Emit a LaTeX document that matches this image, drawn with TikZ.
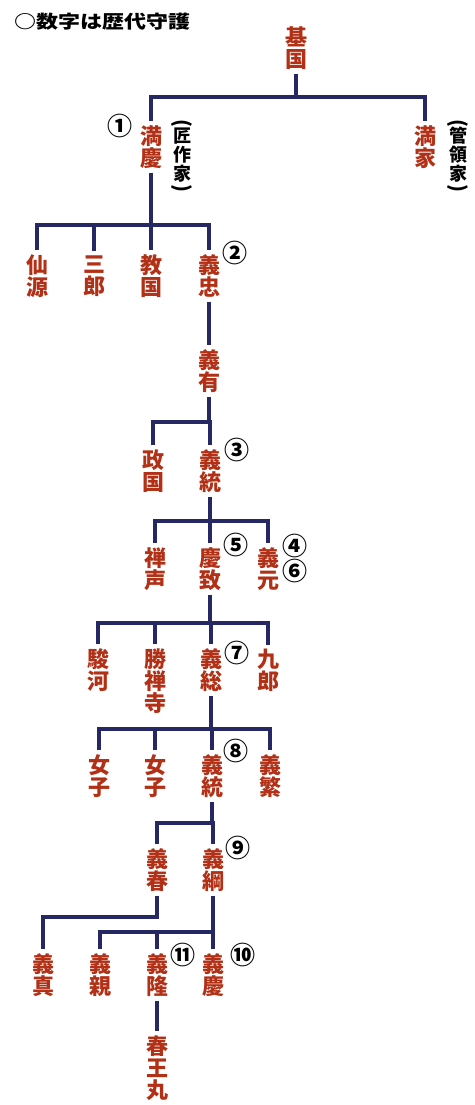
\documentclass[tikz,border=0pt]{standalone}
\usepackage{fontspec}
\newfontfamily\jp{Noto Sans CJK JP}
\definecolor{namecol}{RGB}{178,48,22}
\definecolor{linecol}{RGB}{38,40,100}
\tikzset{
 nm/.style={font=\jp\bfseries\fontsize{22}{22}\selectfont, text=namecol, align=center, inner xsep=1pt, inner ysep=4pt},
 num/.style={font=\jp\bfseries\fontsize{25}{25}\selectfont, inner sep=0pt},
 note/.style={font=\jp\bfseries\fontsize{18}{19}\selectfont, align=center, inner sep=0pt},
 paren/.style={font=\jp\bfseries\fontsize{20}{20}\selectfont, inner sep=0pt, rotate=-90},
 conn/.style={draw=linecol, line width=3.2pt},
}
\begin{document}
\begin{tikzpicture}[x=1pt,y=1pt]
\useasboundingbox[fill=white] (0,0) rectangle (474,-1105);
% title
\node[anchor=west, inner sep=0pt, font=\jp\bfseries\fontsize{22}{22}\selectfont] (title) at (14,-22) {\scalebox{1}[0.82]{○数字は歴代守護}};
% bar levels
\coordinate (y1) at (0,-97);
\coordinate (y2) at (0,-225);
\coordinate (y4) at (0,-422);
\coordinate (y5) at (0,-521);
\coordinate (y6) at (0,-623);
\coordinate (y7) at (0,-729);
\coordinate (y8) at (0,-823);
\coordinate (y9) at (0,-917);
\coordinate (y10) at (0,-932);
% names
\node[nm] (motokuni) at (296,-48) {基\\国};
\node[nm] (mankei) at (151,-147) {満\\慶};
\node[nm] (mitsuie) at (425,-147) {満\\家};
\node[nm] (sengen) at (37,-276) {仙\\源};
\node[nm] (saburo) at (94,-276) {三\\郎};
\node[nm] (norikuni) at (151,-276) {教\\国};
\node[nm] (yoshitada) at (209,-276) {義\\忠};
\node[nm] (yoshiari) at (209,-371) {義\\有};
\node[nm] (masakuni) at (153,-471) {政\\国};
\node[nm] (yoshimune) at (210,-471) {義\\統};
\node[nm] (zensho) at (155,-569) {禅\\声};
\node[nm] (yoshimune2) at (210,-569) {慶\\致};
\node[nm] (yoshimoto) at (268,-569) {義\\元};
\node[nm] (suruga) at (98,-670) {駿\\河};
\node[nm] (shozenji) at (155,-681) {勝\\禅\\寺};
\node[nm] (yoshifusa) at (211,-670) {義\\総};
\node[nm] (kuro) at (268,-670) {九\\郎};
\node[nm] (joshi1) at (99,-776) {女\\子};
\node[nm] (joshi2) at (155,-776) {女\\子};
\node[nm] (yoshimune3) at (212,-776) {義\\統};
\node[nm] (yoshishige) at (270,-776) {義\\繁};
\node[nm] (yoshiharu) at (157,-870) {義\\春};
\node[nm] (yoshitsuna) at (213,-870) {義\\綱};
\node[nm] (yoshizane) at (43,-975) {義\\真};
\node[nm] (yoshichika) at (100,-975) {義\\親};
\node[nm] (yoshitaka) at (157,-975) {義\\隆};
\node[nm] (yoshinori) at (213,-975) {義\\慶};
\node[nm] (haruomaru) at (157,-1068) {春\\王\\丸};
% notes
\node[note] (n1) at (182,-155) {匠\\作\\家};
\node[paren] (n1a) at (182,-124) {(};
\node[paren] (n1b) at (182,-188) {)};
\node[note] (n2) at (458,-155) {管\\領\\家};
\node[paren] (n2a) at (458,-124) {(};
\node[paren] (n2b) at (458,-188) {)};
% numbers
\node[num] (c1) at (120,-126) {①};
\node[num] (c2) at (235,-253) {②};
\node[num] (c3) at (237,-450) {③};
\node[num] (c5) at (236,-545) {⑤};
\node[num] (c4) at (295,-546) {④};
\node[num] (c6) at (295,-571) {⑥};
\node[num] (c7) at (237,-653) {⑦};
\node[num] (c8) at (236,-751) {⑧};
\node[num] (c9) at (238,-848) {⑨};
\node[num] (c11) at (183,-955) {⑪};
\node[num] (c10) at (243,-955) {⑩};
% connectors
\draw[conn] (motokuni.south) -- (motokuni.south |- y1);
\draw[conn] (mankei.north) |- (mitsuie.north |- y1) -- (mitsuie.north);

\draw[conn] (mankei.south) -- (norikuni.north);
\draw[conn] (sengen.north) |- (yoshitada.north |- y2) -- (yoshitada.north);
\draw[conn] (saburo.north) -- (saburo.north |- y2);

\draw[conn] (yoshitada.south) -- (yoshiari.north);

\draw[conn] (yoshiari.south) -- (yoshiari.south |- y4);
\draw[conn] (masakuni.north) |- (yoshimune.north |- y4) -- (yoshimune.north);

\draw[conn] (yoshimune.south) -- (yoshimune.south |- y5);
\draw[conn] (zensho.north) |- (yoshimoto.north |- y5) -- (yoshimoto.north);
\draw[conn] (yoshimune2.north) -- (yoshimune2.north |- y5);

\draw[conn] (yoshimune2.south) -- (yoshimune2.south |- y6);
\draw[conn] (suruga.north) |- (kuro.north |- y6) -- (kuro.north);
\draw[conn] (shozenji.north) -- (shozenji.north |- y6);
\draw[conn] (yoshifusa.north) -- (yoshifusa.north |- y6);

\draw[conn] (yoshifusa.south) -- (yoshifusa.south |- y7);
\draw[conn] (joshi1.north) |- (yoshishige.north |- y7) -- (yoshishige.north);
\draw[conn] (joshi2.north) -- (joshi2.north |- y7);
\draw[conn] (yoshimune3.north) -- (yoshimune3.north |- y7);

\draw[conn] (yoshimune3.south) -- (yoshimune3.south |- y8);
\draw[conn] (yoshiharu.north) |- (yoshitsuna.north |- y8) -- (yoshitsuna.north);

\draw[conn] (yoshiharu.south) -- (yoshiharu.south |- y9) -| (yoshizane.north);

\draw[conn] (yoshitsuna.south) -- (yoshitsuna.south |- y10);
\draw[conn] (yoshichika.north) |- (yoshinori.north |- y10) -- (yoshinori.north);
\draw[conn] (yoshitaka.north) -- (yoshitaka.north |- y10);

\draw[conn] (yoshitaka.south) -- (haruomaru.north);
\end{tikzpicture}
\end{document}
